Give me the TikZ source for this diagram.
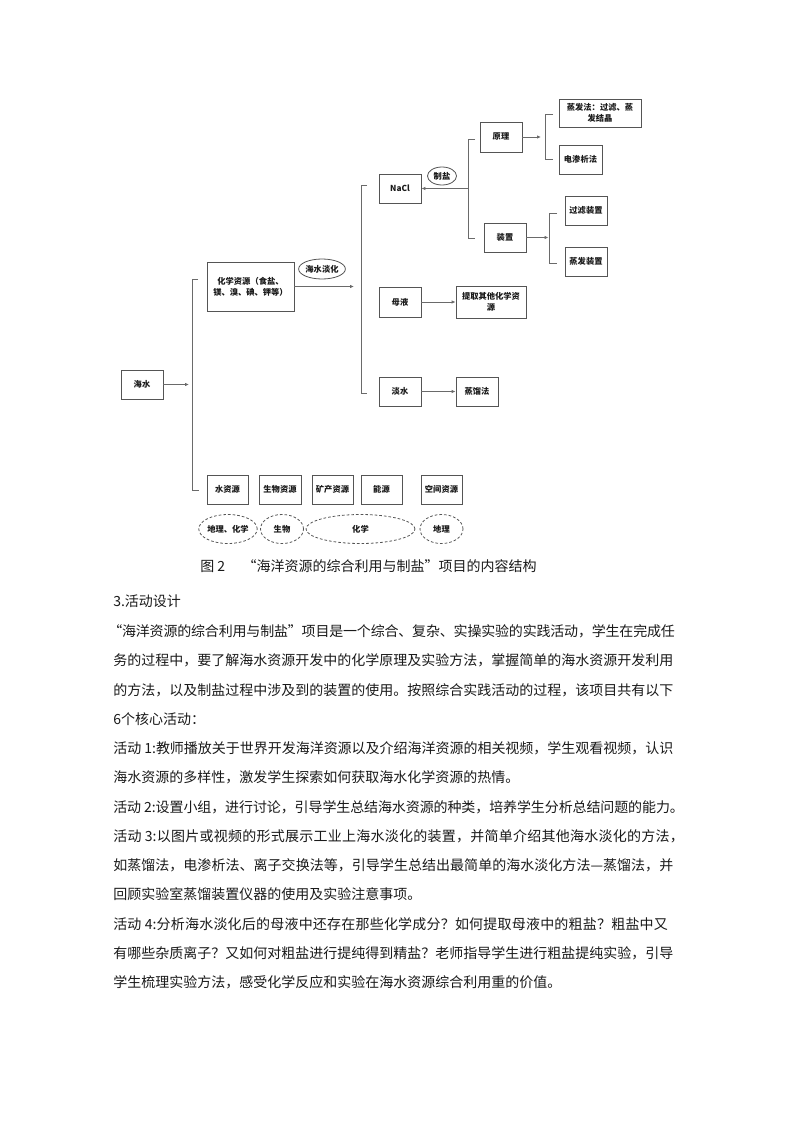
\documentclass[tikz,border=0pt]{standalone}
\usepackage{fontspec}
\setmainfont{Noto Sans CJK SC}
\usetikzlibrary{arrows.meta,shapes.geometric}
\newXeTeXintercharclass\myCJK
\newcount\mycc
\mycc="4E00
\loop
\XeTeXcharclass\mycc=\myCJK
\ifnum\mycc<"9FFF \advance\mycc by 1 \repeat
\XeTeXcharclass"3001=\myCJK
\XeTeXcharclass"3002=\myCJK
\XeTeXcharclass"FF0C=\myCJK
\XeTeXcharclass"FF1A=\myCJK
\XeTeXcharclass"FF1F=\myCJK
\XeTeXcharclass"FF08=\myCJK
\XeTeXcharclass"FF09=\myCJK
\XeTeXcharclass"201C=\myCJK
\XeTeXcharclass"201D=\myCJK
\XeTeXcharclass"2014=\myCJK
\XeTeXinterchartoks\myCJK\myCJK={\hskip0pt plus 1pt minus 0.6pt\relax}
\XeTeXinterchartoks\myCJK 0={\hskip0pt plus 1pt minus 0.6pt\relax}
\XeTeXinterchartoks 0 \myCJK={\hskip0pt plus 1pt minus 0.6pt\relax}
\hbadness=10000
\hfuzz=20pt
\definecolor{boxgray}{HTML}{555555}
\definecolor{linegray}{HTML}{6A6A6A}
\definecolor{txt}{HTML}{1A1A1A}
\newcommand\lbl{\bfseries\fontsize{6.2}{8}\selectfont}
\newcommand\bodyfont{\fontsize{10.5}{12}\selectfont}
\begin{document}
\XeTeXinterchartokenstate=1
\begin{tikzpicture}[x=0.75pt,y=-0.75pt,
  box/.style 2 args={draw=boxgray, line width=0.6pt, inner sep=0pt, align=center,
    font=\lbl, text=txt, minimum width=#1*0.75pt, minimum height=#2*0.75pt},
  tag/.style 2 args={ellipse, draw=boxgray, line width=0.6pt, inner sep=0pt, align=center,
    font=\lbl, text=txt, minimum width=#1*0.75pt, minimum height=#2*0.75pt},
  dsh/.style={dash pattern=on 2pt off 1.5pt},
  conn/.style={draw=linegray, line width=0.6pt},
  arr/.style={conn, -{Latex[length=3pt,width=2.6pt]}},
  bodyl/.style={anchor=west, inner sep=0pt, font=\bodyfont, text=txt}]
\useasboundingbox (0,0) rectangle (794,1123);
\fill[white] (0,0) rectangle (794,1123);

% ---------- nodes ----------
\node[box={42}{29}] (haishui) at (142,384.5) {海水};
\node[box={87}{49}] (huaxue) at (250.5,286.5) {化学资源（食盐、\\镁、溴、碘、钾等）};
\node[box={42}{29}] (nacl) at (400,188.5) {NaCl};
\node[box={42}{30}] (muye) at (400,302) {母液};
\node[box={42}{29}] (danshui) at (400,391.5) {淡水};
\node[box={42}{30}] (yuanli) at (501,137) {原理};
\node[box={42}{29}] (zhuangzhi) at (505,237.5) {装置};
\node[box={82}{28}] (zff) at (600,113) {蒸发法：过滤、蒸\\发结晶};
\node[box={43}{29}] (dsx) at (580.5,159.5) {电渗析法};
\node[box={42}{29}] (glzz) at (586,210.5) {过滤装置};
\node[box={42}{29}] (zfzz) at (586,261.5) {蒸发装置};
\node[box={70}{32}] (tiqu) at (491,302) {提取其他化学资\\源};
\node[box={42}{29}] (zlf) at (477,391.5) {蒸馏法};

\node[box={41}{29}] (r1) at (227.5,489.5) {水资源};
\node[box={42}{29}] (r2) at (280,489.5) {生物资源};
\node[box={41}{29}] (r3) at (332.5,489.5) {矿产资源};
\node[box={41}{29}] (r4) at (381.5,489.5) {能源};
\node[box={41}{29}] (r5) at (441.5,489.5) {空间资源};

\node[tag={54}{29}, dsh] (e1) at (228,529) {地理、化学};
\node[tag={43}{29}, dsh] (e2) at (282,529) {生物};
\node[tag={109}{29}, dsh] (e3) at (360.5,529) {化学};
\node[tag={43}{29}, dsh] (e4) at (441.5,529) {地理};

\node[tag={43}{20}] (hsdh) at (322,269) {海水淡化};
\node[tag={29}{18}] (zy) at (442,176) {制盐};

% ---------- brackets ----------
\draw[conn] (198,279) -- (192,279) -- (192,490) -- (199,490);
\draw[conn] (367,185) -- (361,185) -- (361,393) -- (367,393);
\draw[conn] (475,139) -- (468,139) -- (468,238) -- (475,238);
\draw[conn] (553,114) -- (545,114) -- (545,159) -- (553,159);
\draw[conn] (557,213) -- (549,213) -- (549,263) -- (557,263);
\coordinate (b1) at (189,384.5);
\coordinate (b2) at (354,286.5);
\coordinate (b3) at (468,188.5);
\coordinate (b4) at (541,137);
\coordinate (b5) at (548.5,237.5);

% ---------- connectors ----------
\draw[arr] (haishui.east) -- (b1);
\draw[arr] (huaxue.east) -- (b2);
\draw[arr] (b3) -- (nacl.east);
\draw[arr] (yuanli.east) -- (b4);
\draw[arr] (zhuangzhi.east) -- (b5);
\draw[arr] (muye.east) -- (tiqu.west);
\draw[arr] (danshui.east) -- (zlf.west);

% ---------- caption and text ----------
\node[bodyl] (cap) at (200,566) {图 2\hspace{13pt}“海洋资源的综合利用与制盐”项目的内容结构};
\node[bodyl] (t0) at (113,601) {3.活动设计};
\node[bodyl] (t1) at (108,631) {\hbox to 425pt{“海洋资源的综合利用与制盐”项目是一个综合、复杂、实操实验的实践活动，学生在完成任}};
\node[bodyl] (t2) at (113,660) {\hbox to 420pt{务的过程中，要了解海水资源开发中的化学原理及实验方法，掌握简单的海水资源开发利用}};
\node[bodyl] (t3) at (113,690) {\hbox to 420pt{的方法，以及制盐过程中涉及到的装置的使用。按照综合实践活动的过程，该项目共有以下}};
\node[bodyl] (t4) at (113,719) {6个核心活动：};
\node[bodyl] (t5) at (113,748) {\hbox to 420pt{活动 1:教师播放关于世界开发海洋资源以及介绍海洋资源的相关视频，学生观看视频，认识}};
\node[bodyl] (t6) at (113,777) {海水资源的多样性，激发学生探索如何获取海水化学资源的热情。};
\node[bodyl] (t7) at (113,807) {\hbox to 428pt{活动 2:设置小组，进行讨论，引导学生总结海水资源的种类，培养学生分析总结问题的能力。}};
\node[bodyl] (t8) at (113,836) {\hbox to 428pt{活动 3:以图片或视频的形式展示工业上海水淡化的装置，并简单介绍其他海水淡化的方法，}};
\node[bodyl] (t9) at (113,865) {\hbox to 420pt{如蒸馏法，电渗析法、离子交换法等，引导学生总结出最简单的海水淡化方法—蒸馏法，并}};
\node[bodyl] (t10) at (113,894) {回顾实验室蒸馏装置仪器的使用及实验注意事项。};
\node[bodyl] (t11) at (113,924) {\hbox to 416pt{活动 4:分析海水淡化后的母液中还存在那些化学成分？如何提取母液中的粗盐？粗盐中又}};
\node[bodyl] (t12) at (113,953) {\hbox to 420pt{有哪些杂质离子？又如何对粗盐进行提纯得到精盐？老师指导学生进行粗盐提纯实验，引导}};
\node[bodyl] (t13) at (113,982) {学生梳理实验方法，感受化学反应和实验在海水资源综合利用重的价值。};
\end{tikzpicture}
\end{document}
